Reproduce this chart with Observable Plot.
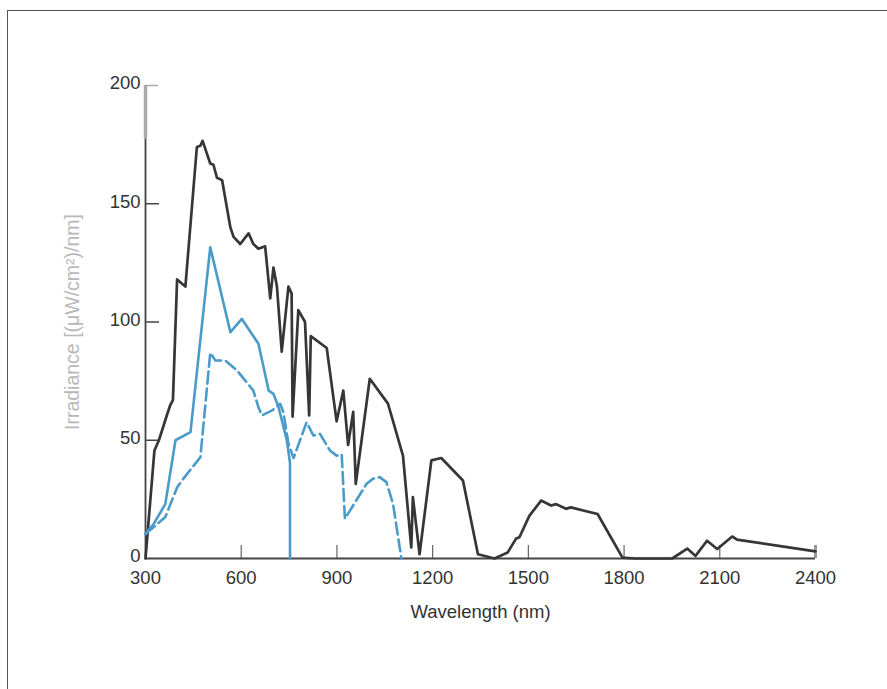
<!DOCTYPE html>
<html><head><meta charset="utf-8">
<script src="https://cdn.jsdelivr.net/npm/d3@7"></script>
<script src="https://cdn.jsdelivr.net/npm/@observablehq/plot@0.6"></script>
<style>
html,body{margin:0;padding:0;background:#fff;width:887px;height:689px;overflow:hidden;}
#frame{position:absolute;left:7px;top:10px;width:900px;height:700px;border-top:1.5px solid #555;border-left:1.5px solid #555;}
#chart{position:absolute;left:0;top:0;}
</style></head><body><div id="frame"></div><div id="chart"></div>
<script>
// Black curve: total solar irradiance
const totalNm  = [300,328,342,368,378,386,399,425,461,472,479,493,503,513,524,540,566,576,597,623,638,654,675,691,701,712,727,748,758,761,779,800,813,818,868,899,920,935,951,959,1003,1060,1107,1133,1138,1159,1196,1227,1295,1342,1394,1435,1462,1472,1503,1540,1571,1587,1618,1633,1717,1795,1836,1951,1998,2024,2060,2092,2139,2154,2400];
const totalIrr = [0,45.7,50,61,65,67,118,115,174,174.5,176.6,171,167,166.5,161,160,140,136,133,137.5,133,131,132,110,123,115,87.5,115,112,60,105,100,60.5,94,89,58,71,48,62,31.5,76,65.5,43.5,4.7,26,1.8,41.5,42.5,33,1.8,0,2.5,8.5,9,18,24.5,22.4,23,21,21.6,18.8,0.4,0,0,4.2,1.1,7.5,4,9.3,8,3];
// Blue solid curve
const solidNm  = [300,326,362,394,441,503,566,602,654,686,701,717,743,753,753];
const solidIrr = [10.4,14.7,23,50,53.4,131.6,95.7,101.3,90.8,71,69.6,64,50,40.4,0];
// Blue dashed curve
const dashNm  = [300,362,399,420,472,503,519,550,587,638,654,665,697,722,732,748,764,805,826,847,878,899,915,925,993,1013,1034,1055,1076,1102];
const dashIrr = [10.4,17.5,30,34,42.8,87,83.7,83.7,79.5,71,64,60.5,62.6,65.4,62,48.5,42.5,57.6,52,52.7,45.7,43.5,44,16.8,31.6,33.7,34.4,32.3,23,0];

const xTicks = [300,600,900,1200,1500,1800,2100,2400];
const yTicks = [0,50,100,150,200];
const xLabel = "Wavelength (nm)";
const yLabel = "Irradiance [(\u03bcW/cm\u00b2)/nm]";

const rows = (xs, ys) => xs.map((x, i) => ({x, y: ys[i]}));
const ink = "#444";
const blue = "#4a9bc9";

const chart = Plot.plot({
  width: 887, height: 689,
  marginLeft: 145, marginRight: 72, marginTop: 85, marginBottom: 131,
  x: {domain: [300, 2400]},
  y: {domain: [0, 200]},
  style: {fontFamily: "'Liberation Sans', Arial, sans-serif", fontSize: "18.5px", color: "#333", background: "transparent", overflow: "visible"},
  marks: [
    Plot.axisX({ticks: xTicks, tickSize: 0, tickPadding: 12, tickFormat: "d", label: null, fill: "#333"}),
    Plot.axisY({ticks: yTicks, tickSize: 0, tickPadding: 5, tickFormat: "d", label: null, fill: "#333", dy: -2}),
    // inward ticks
    Plot.ruleX(xTicks.slice(1, -1), {x: d => d, y1: 0, y2: 0, insetTop: -13, stroke: "#666", strokeWidth: 1.2}),
    Plot.ruleX(xTicks.slice(-1), {x: d => d, y1: 0, y2: 0, insetTop: -13, stroke: "#999", strokeWidth: 3}),
    Plot.ruleY(yTicks.slice(1, -1), {y: d => d, x1: 300, x2: 300, insetRight: -14, stroke: ink, strokeWidth: 1.5}),
    Plot.ruleY(yTicks.slice(-1), {y: d => d, x1: 300, x2: 300, insetRight: -13, stroke: "#aaa", strokeWidth: 1.5}),
    // axis lines
    Plot.ruleY([0], {x1: 300, x2: 2400, stroke: ink, strokeWidth: 1.8}),
    Plot.ruleX([300], {x: d => d, y1: 0, y2: 177.5, stroke: ink, strokeWidth: 1.8}),
    Plot.ruleX([300], {x: d => d, y1: 177.5, y2: 200, stroke: "#aaa", strokeWidth: 3.5}),
    // curves
    Plot.line(rows(totalNm, totalIrr), {x: "x", y: "y", stroke: "#363636", strokeWidth: 2.7}),
    Plot.line(rows(solidNm, solidIrr), {x: "x", y: "y", stroke: blue, strokeWidth: 2.6}),
    Plot.line(rows(dashNm, dashIrr), {x: "x", y: "y", stroke: blue, strokeWidth: 2.6, strokeDasharray: "12,5"}),
    // labels
    Plot.text([xLabel], {frameAnchor: "bottom", dy: 59, fontSize: 18.5, fill: "#333"}),
    Plot.text([yLabel], {frameAnchor: "left", textAnchor: "middle", dx: -73, rotate: -90, fontSize: 19.5, fill: "#b8b8b8"})
  ]
});
document.getElementById("chart").append(chart);
</script>
</body></html>
